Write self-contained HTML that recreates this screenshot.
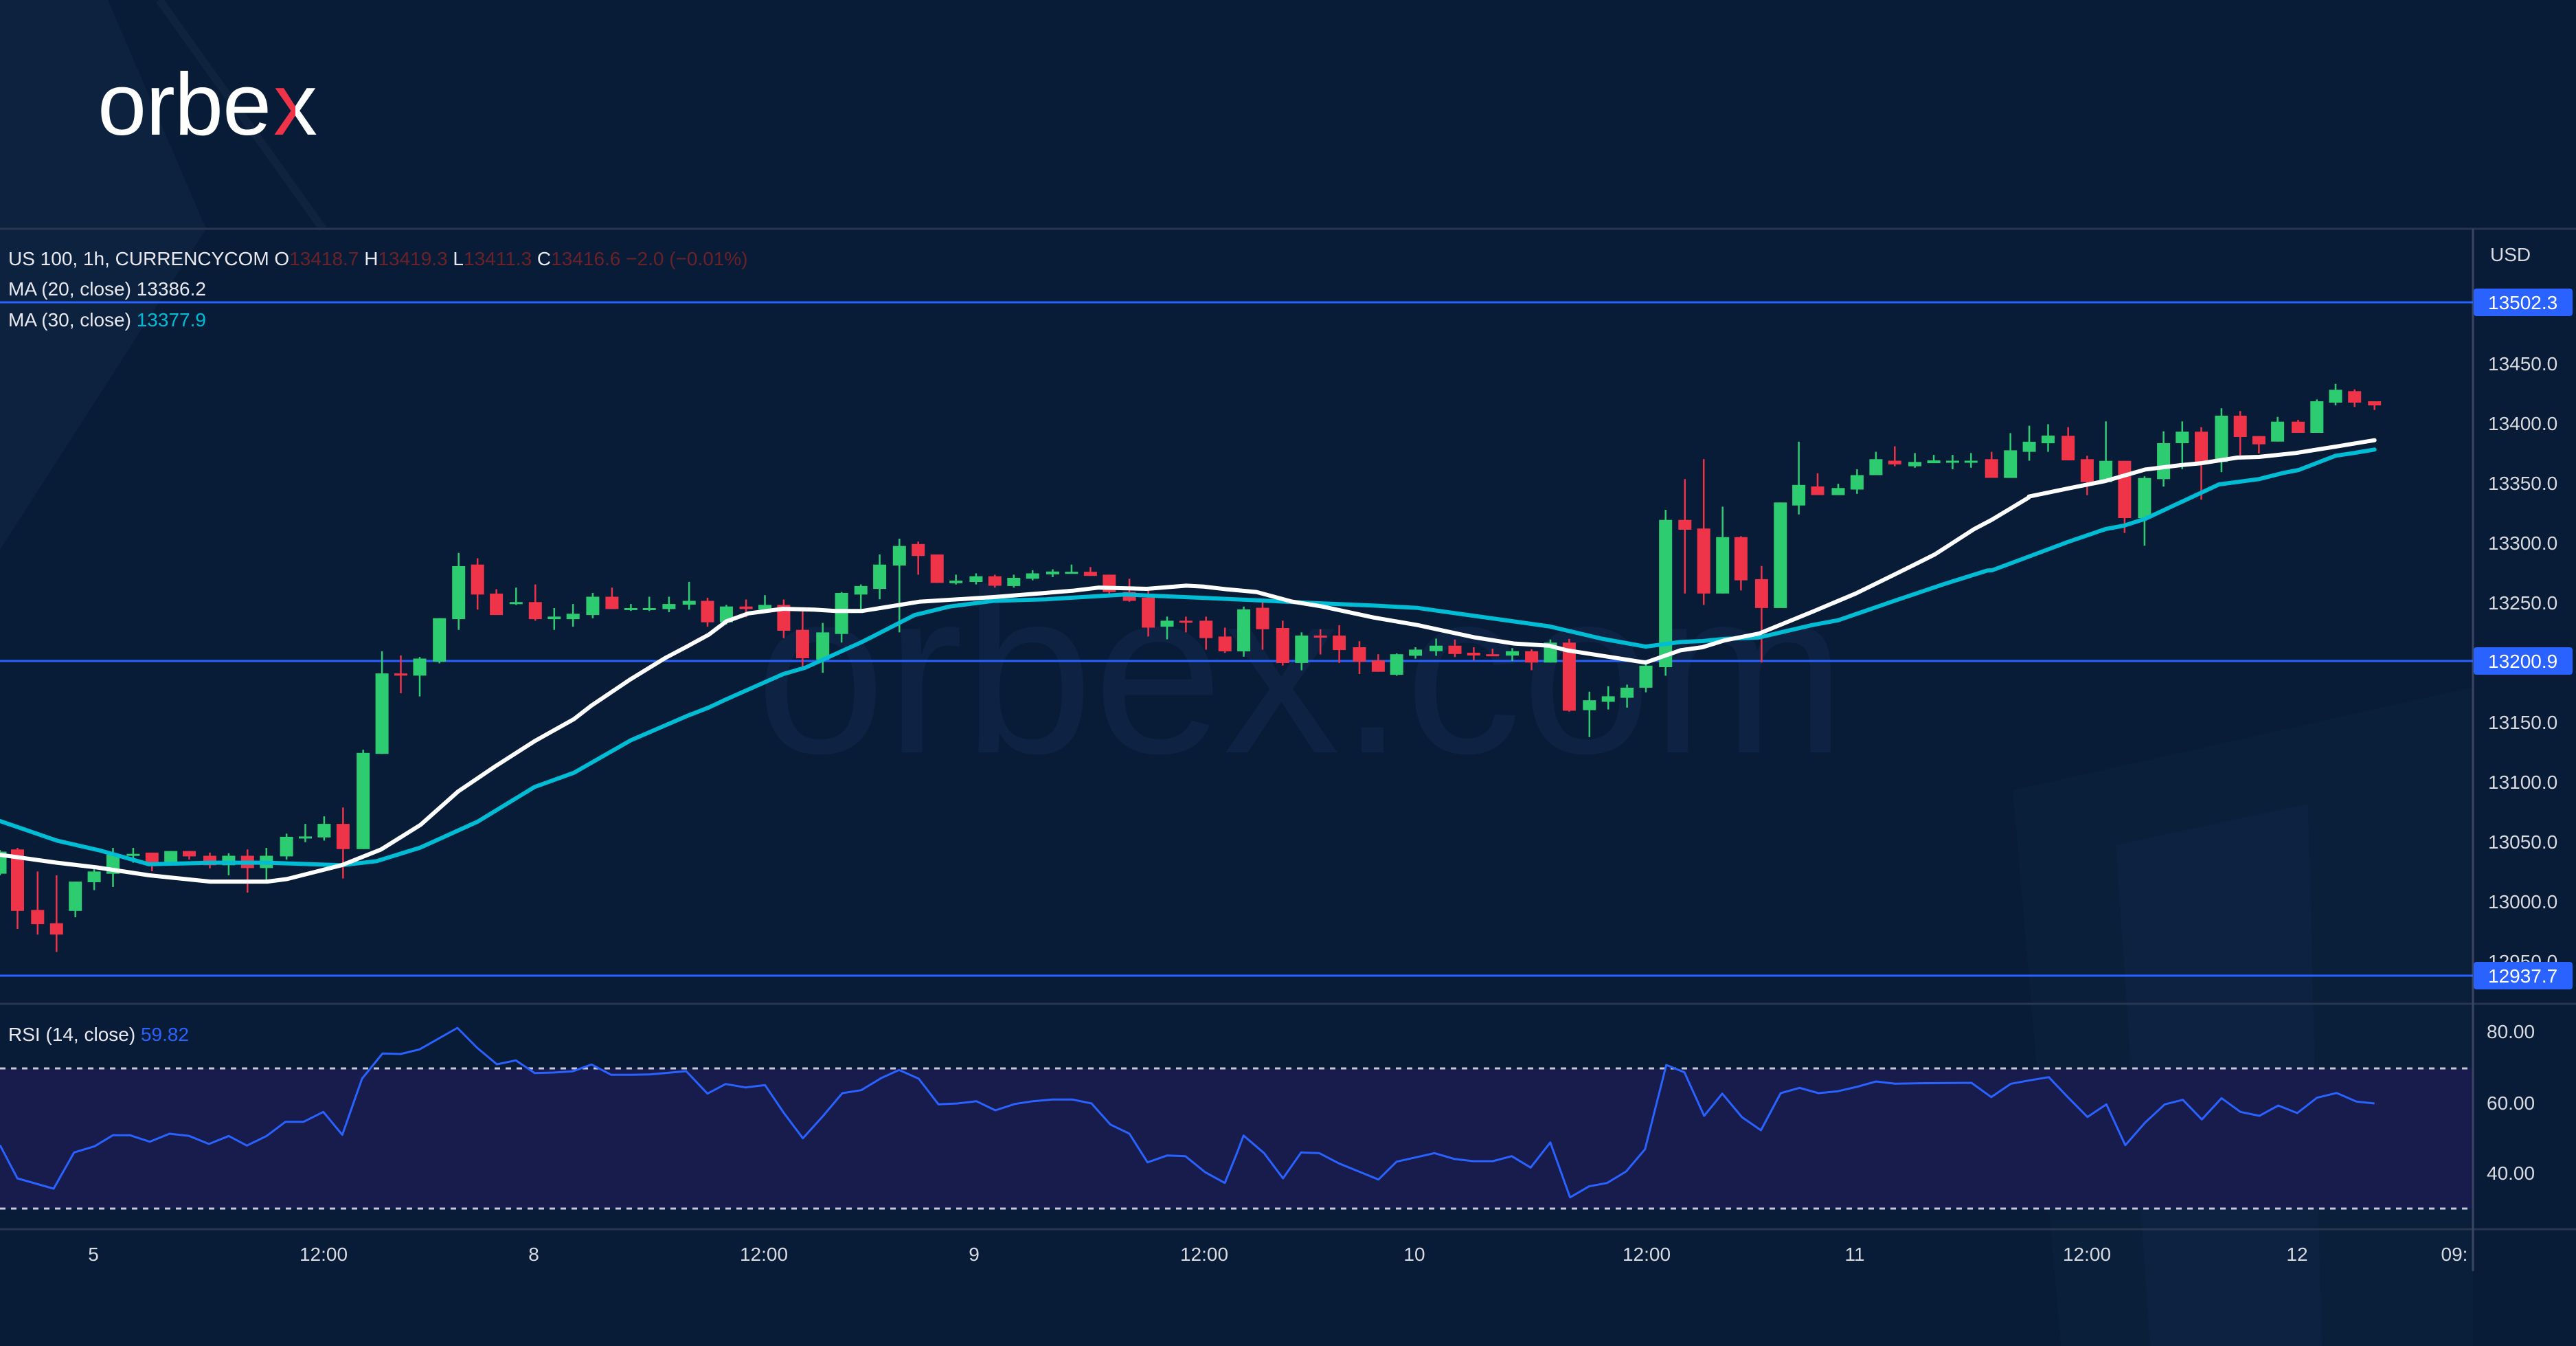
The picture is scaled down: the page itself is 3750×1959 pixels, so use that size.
<!DOCTYPE html>
<html><head><meta charset="utf-8">
<style>
html,body{margin:0;padding:0;background:#081c37;}
body{width:3750px;height:1959px;overflow:hidden;position:relative;font-family:"Liberation Sans",sans-serif;}
svg{position:absolute;left:0;top:0;}
</style></head>
<body>
<svg id="s" width="3750" height="1959" viewBox="0 0 3750 1959" xmlns="http://www.w3.org/2000/svg">
<defs>
<linearGradient id="xg" x1="0" y1="0" x2="1" y2="0" gradientUnits="objectBoundingBox">
<stop offset="0" stop-color="#ef3349"/><stop offset="0.5" stop-color="#ef3349"/>
<stop offset="0.5" stop-color="#ffffff"/><stop offset="1" stop-color="#ffffff"/>
</linearGradient>
</defs>
<rect x="0" y="0" width="3750" height="1959" fill="#081c37"/>
<polygon points="0,0 157,0 300,333 0,800" fill="#0d223f"/>
<line x1="232" y1="0" x2="470" y2="333" stroke="#0f233f" stroke-width="12"/>
<polygon points="2930,1150 3600,1000 3600,1959 3000,1959" fill="#0a1f3a"/>
<polygon points="3080,1230 3360,1170 3380,1959 3130,1959" fill="#0c2240"/>
<text x="1100" y="1095" font-size="340" fill="#0e2343" font-family="Liberation Sans, sans-serif">orbex.com</text>
<!-- logo -->
<text x="142" y="196" font-size="128" fill="#ffffff" font-family="Liberation Sans, sans-serif" letter-spacing="-1">orbe</text>
<text x="398" y="196" font-size="128" fill="url(#xg)" font-family="Liberation Sans, sans-serif">x</text>
<line x1="0" y1="333" x2="3750" y2="333" stroke="#2a3550" stroke-width="3"/>
<rect x="0" y="1555" width="3600" height="204" fill="#171c4d"/>
<line x1="0" y1="1555" x2="3600" y2="1555" stroke="#c8c8d8" stroke-width="3" stroke-dasharray="8,8"/>
<line x1="0" y1="1759" x2="3600" y2="1759" stroke="#c8c8d8" stroke-width="3" stroke-dasharray="8,8"/>
<line x1="0" y1="1461" x2="3750" y2="1461" stroke="#2a3550" stroke-width="3"/>
<line x1="0" y1="1789" x2="3750" y2="1789" stroke="#2a3550" stroke-width="3"/>
<line x1="3600" y1="333" x2="3600" y2="1850" stroke="#3a4560" stroke-width="3"/>
<line x1="0" y1="440" x2="3600" y2="440" stroke="#2962ff" stroke-width="3"/>
<line x1="0" y1="962" x2="3600" y2="962" stroke="#2962ff" stroke-width="3"/>
<line x1="0" y1="1420" x2="3600" y2="1420" stroke="#2962ff" stroke-width="3"/>
<g id="cand"></g>
<g id="ma"></g>
<g id="rsi"></g>
<g font-family="Liberation Sans, sans-serif" font-size="28">
<text x="12" y="386" fill="#e8e8ee">US 100, 1h, CURRENCYCOM  O<tspan fill="#6b2128">13418.7</tspan>  H<tspan fill="#6b2128">13419.3</tspan>  L<tspan fill="#6b2128">13411.3</tspan>  C<tspan fill="#6b2128">13416.6</tspan>  <tspan fill="#6b2128">−2.0 (−0.01%)</tspan></text>
<text x="12" y="430" fill="#e8e8ee">MA (20, close)  13386.2</text>
<text x="12" y="475" fill="#e8e8ee">MA (30, close)  <tspan fill="#00bcd4">13377.9</tspan></text>
<text x="12" y="1515" fill="#e8e8ee">RSI (14, close)  <tspan fill="#2962ff">59.82</tspan></text>
</g>
<g font-family="Liberation Sans, sans-serif" font-size="28" fill="#d8dae0">
<text x="3625" y="380">USD</text>
<rect x="3601" y="420" width="144" height="40" rx="4" fill="#2962ff"/>
<text x="3622" y="450" fill="#ffffff">13502.3</text>
<text x="3622" y="539">13450.0</text>
<text x="3622" y="626">13400.0</text>
<text x="3622" y="713">13350.0</text>
<text x="3622" y="800">13300.0</text>
<text x="3622" y="887">13250.0</text>
<rect x="3601" y="942" width="144" height="40" rx="4" fill="#2962ff"/>
<text x="3622" y="972" fill="#ffffff">13200.9</text>
<text x="3622" y="1061">13150.0</text>
<text x="3622" y="1148">13100.0</text>
<text x="3622" y="1235">13050.0</text>
<text x="3622" y="1322">13000.0</text>
<text x="3622" y="1409">12950.0</text>
<rect x="3601" y="1400" width="144" height="40" rx="4" fill="#2962ff"/>
<text x="3622" y="1430" fill="#ffffff">12937.7</text>
<text x="3620" y="1511">80.00</text>
<text x="3620" y="1615">60.00</text>
<text x="3620" y="1717">40.00</text>
</g>
<g font-family="Liberation Sans, sans-serif" font-size="28" fill="#d8dae0" text-anchor="middle">
<text x="136" y="1835">5</text>
<text x="471" y="1835">12:00</text>
<text x="777" y="1835">8</text>
<text x="1112" y="1835">12:00</text>
<text x="1418" y="1835">9</text>
<text x="1753" y="1835">12:00</text>
<text x="2059" y="1835">10</text>
<text x="2397" y="1835">12:00</text>
<text x="2700" y="1835">11</text>
<text x="3038" y="1835">12:00</text>
<text x="3344" y="1835">12</text>
<text x="3573" y="1835">09:</text>
</g>
</svg>
<script>
(function(){
var Z={3:[0,700,1.568,2.178],4:[1000,700,1.568,2.178],5:[2000,500,1.568,2.24],6:[2900,500,2.24,3.0]};
function X(z,v){return Z[z][0]+v/Z[z][2];}
function Y(z,v){return Z[z][1]+v/Z[z][3];}
var C=[
[3,0,1175,1245,1170,1250,1],[3,40,1168,1363,1163,1420,0],[3,86,1360,1405,1238,1438,0],[3,129,1402,1438,1250,1493,0],
[3,172,1270,1363,1270,1383,1],[3,215,1238,1272,1222,1297,1],[3,258,1183,1245,1163,1287,1],[3,304,1182,1186,1163,1210,1],
[3,347,1178,1213,1178,1237,0],[3,390,1173,1213,1173,1213,1],[3,432,1173,1190,1173,1200,0],[3,479,1188,1218,1178,1228,0],
[3,522,1188,1218,1180,1250,1],[3,565,1188,1227,1168,1305,0],[3,608,1188,1227,1163,1275,1],[3,654,1128,1190,1118,1200,1],
[3,697,1127,1131,1087,1145,1],[3,740,1087,1130,1063,1140,1],[3,783,1087,1167,1035,1260,0],[3,829,862,1167,852,1167,1],
[3,872,610,865,540,865,1],[3,915,610,617,553,673,0],[3,958,563,617,558,683,1],[3,1003,435,573,435,578,1],
[3,1047,270,438,228,472,1],[3,1090,265,360,245,408,0],[3,1133,357,425,343,425,0],[3,1178,384,388,338,393,1],
[3,1222,384,438,328,443,0],[3,1265,430,438,403,472,1],[3,1308,421,438,390,462,1],[3,1353,367,425,355,435,1],
[3,1397,367,406,338,406,0],[3,1440,403,407,390,412,1],[3,1482,403,407,367,412,1],[3,1527,390,406,367,416,1],
[4,5,380,392,320,408,1],[4,47,380,448,370,462,0],[4,90,398,448,393,455,1],[4,135,398,406,376,432,0],
[4,178,393,408,362,415,1],[4,221,393,475,376,498,0],[4,264,472,562,412,595,0],[4,310,480,567,450,608,1],
[4,353,355,485,352,512,1],[4,397,333,360,328,408,1],[4,440,265,342,233,375,1],[4,485,206,268,183,480,1],
[4,528,200,238,192,297,0],[4,571,233,323,233,323,0],[4,614,316,324,297,328,1],[4,660,302,320,293,328,1],
[4,703,302,332,297,338,0],[4,746,307,333,297,338,1],[4,789,293,310,283,315,1],[4,835,287,296,280,305,1],
[4,878,288,291,265,291,1],[4,921,288,301,273,301,0],[4,964,297,352,297,365,0],[4,1010,352,380,310,383,0],
[4,1053,370,465,348,493,0],[4,1096,443,462,430,502,1],[4,1139,443,448,430,480,0],[4,1185,443,498,430,535,0],
[4,1228,493,540,465,545,0],[4,1271,407,540,398,557,1],[4,1314,402,470,378,535,0],[4,1360,466,577,443,585,0],
[4,1403,490,577,480,600,1],[4,1446,490,495,470,550,0],[4,1489,490,536,457,577,0],[4,1535,527,573,508,612,0],
[5,10,1033,1070,1013,1070,0],[5,52,1013,1080,1010,1083,1],[5,95,998,1018,990,1027,1],[5,142,985,1003,962,1018,1],
[5,185,985,1012,965,1022,0],[5,228,1008,1017,990,1032,0],[5,271,1013,1017,995,1017,0],[5,316,1003,1017,993,1035,1],
[5,360,1003,1040,997,1065,0],[5,403,975,1040,965,1040,1],[5,446,975,1197,963,1200,0],[5,492,1163,1195,1135,1283,1],
[5,535,1150,1168,1117,1193,1],[5,578,1122,1155,1112,1187,1],[5,621,1050,1122,1035,1137,1],[5,666,575,1055,542,1083,1],
[5,710,575,607,442,815,0],[5,753,603,815,377,852,0],[5,796,631,815,532,815,1],[5,838,631,772,628,805,0],
[5,885,768,862,725,1040,0],[5,928,518,862,518,862,1],[5,970,461,528,320,557,1],[5,1013,466,494,423,494,0],
[5,1060,471,494,457,494,1],[5,1103,429,476,410,490,1],[5,1146,377,429,353,429,1],[5,1189,382,394,335,400,0],
[5,1235,386,400,357,405,1],[5,1278,381,390,363,390,1],[5,1321,382,386,363,410,1],[5,1363,382,386,357,405,1],
[5,1410,377,438,353,438,0],[5,1453,348,438,292,438,1],[5,1496,320,353,268,382,1],[5,1539,300,325,263,353,1],
[6,248,403,510,365,510,0],[6,310,505,605,490,662,0],[6,371,512,605,340,605,1],[6,432,512,762,512,827,0],
[6,497,587,762,580,883,1],[6,559,435,592,383,625,1],[6,620,385,435,340,548,1],[6,682,385,517,365,682,0],
[6,748,315,517,283,562,1],[6,809,315,408,295,492,0],[6,870,404,440,404,480,0],[6,931,341,428,320,428,1],
[6,998,341,390,333,390,0],[6,1059,252,390,244,390,1],[6,1120,202,258,176,270,1],[6,1182,208,258,200,277,0],
[6,1247,252,270,252,290,0]];
var g=document.getElementById("cand"),h="";
C.forEach(function(c){var z=c[0],x=X(z,c[1]),bt=Y(z,c[2]),bb=Y(z,c[3]),wt=Y(z,c[4]),wb=Y(z,c[5]);
var col=c[6]?"#2ecc71":"#ef3349";if(bb-bt<3){bb=bt+3;}
h+='<line x1="'+x.toFixed(1)+'" y1="'+wt.toFixed(1)+'" x2="'+x.toFixed(1)+'" y2="'+wb.toFixed(1)+'" stroke="'+col+'" stroke-width="2.5"/>';
h+='<rect x="'+(x-9.5).toFixed(1)+'" y="'+bt.toFixed(1)+'" width="19" height="'+(bb-bt).toFixed(1)+'" fill="'+col+'"/>';});
g.innerHTML=h;
function pl(arr){var p=[];arr.forEach(function(seg){var z=seg[0];for(var i=1;i<seg.length;i+=2){p.push(X(z,seg[i]).toFixed(1)+","+Y(z,seg[i+1]).toFixed(1));}});return p.join(" ");}
var ma20=[[3,0,1185,130,1210,220,1225,340,1250,480,1270,610,1270,655,1262,780,1218,870,1168,960,1090,1045,985,1130,905,1220,825,1310,755,1350,712,1440,628,1520,560],
[4,0,525,50,487,90,445,140,420,220,405,290,408,340,412,400,412,530,383,700,368,880,348,940,338,1050,342,1140,332,1180,335,1230,343,1300,352,1380,382,1450,398,1568,433],
[5,100,918,230,958,320,978,400,985,440,1000,540,1022,620,1040,700,1000,750,990,800,968,880,945,1000,875,1100,815,1190,752,1280,688,1370,605,1410,575,1495,502],
[6,120,668,250,632,370,600,500,550,620,530,680,523,800,498,870,495,990,478,1050,465,1130,448,1247,422]];
var ma30=[[3,0,1078,130,1140,230,1172,340,1215,480,1210,610,1210,780,1218,860,1205,960,1162,1090,1080,1220,970,1310,925,1440,822],
[4,0,745,50,718,90,692,220,612,270,592,400,510,520,425,600,398,700,380,820,375,1000,360,1200,372,1300,378,1400,385,1568,395],
[5,100,862,280,898,400,922,520,962,620,988,700,973,750,970,800,963,880,958,1000,918,1060,902,1190,838,1300,785,1400,740],
[6,0,990,120,930,250,865,370,810,430,795,500,765,620,690,740,615,870,592,950,565,1000,552,1120,490,1180,478,1247,463]];
var m=document.getElementById("ma");
m.innerHTML='<polyline points="'+pl(ma30)+'" fill="none" stroke="#00bcd4" stroke-width="6" stroke-linejoin="round" stroke-linecap="round"/>'+
'<polyline points="'+pl(ma20)+'" fill="none" stroke="#ffffff" stroke-width="6" stroke-linejoin="round" stroke-linecap="round"/>';
var r7=[0,620,22,765,68,810,94,652,120,625,143,577,165,577,190,605,215,570,240,580,265,615,290,580,313,622,338,580,362,518,385,518,410,475,434,575,459,330,485,220,508,222,532,202,580,108,605,195,630,267,654,250,678,305,702,303,726,298,750,268,775,313,800,313,824,311,870,297,897,395,920,353,945,368,970,358,994,480,1018,590,1043,495,1068,393,1092,380,1117,328,1140,292,1165,330,1190,442,1214,438,1238,428,1262,468,1287,440,1310,428,1334,421,1360,421,1384,438,1408,530,1432,570,1455,695,1480,665,1503,668,1528,738,1553,785];
var r8=[0,660,9,578,35,655,59,765,82,652,105,655,130,700,155,735,180,770,203,692,228,673,251,655,276,680,300,690,325,690,349,668,373,718,398,608,423,848,447,800,470,785,494,735,518,638,545,270,568,302,593,492,616,395,641,498,665,555,690,393,714,370,738,393,762,385,787,365,811,342,835,352,860,350,932,348,957,410,982,352,1006,337,1030,323,1054,410,1079,497,1103,442,1127,620,1152,522,1177,442,1200,422,1224,508,1249,415,1273,475,1297,492,1321,447,1345,480,1370,413,1395,392,1420,430,1443,438];
var pts=[];
for(var i=0;i<r7.length;i+=2)pts.push((r7[i]/0.871).toFixed(1)+","+(1460+r7[i+1]/3).toFixed(1));
for(var j=0;j<r8.length;j+=2)pts.push((1800+r8[j]/0.871).toFixed(1)+","+(1460+r8[j+1]/3).toFixed(1));
document.getElementById("rsi").innerHTML='<polyline points="'+pts.join(" ")+'" fill="none" stroke="#2962ff" stroke-width="3" stroke-linejoin="round"/>';
})();
</script>
</body></html>
